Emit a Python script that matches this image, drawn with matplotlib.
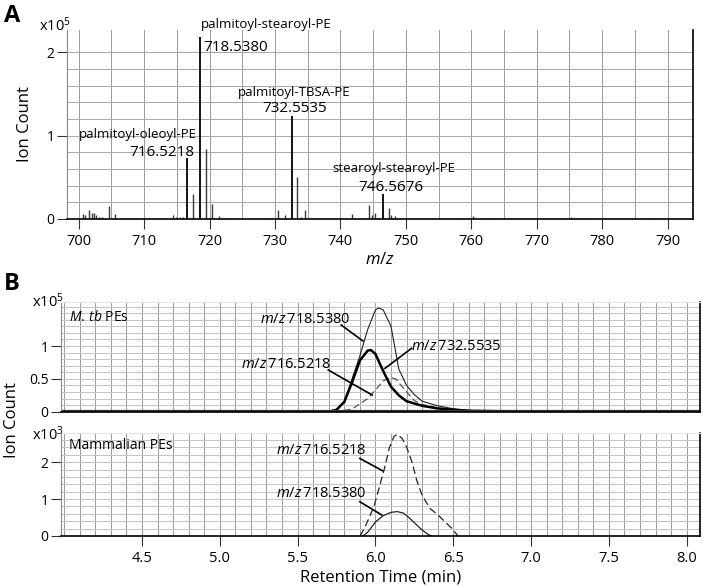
import numpy as np
import matplotlib.pyplot as plt
from matplotlib.ticker import FixedLocator, MultipleLocator, FuncFormatter

plt.rcParams['font.family'] = ['Open Sans', 'DejaVu Sans']
plt.rcParams['mathtext.fontset'] = 'custom'
plt.rcParams['mathtext.rm'] = 'Open Sans'
plt.rcParams['mathtext.it'] = 'Open Sans:italic'

# ---------------- data: panel A mass spectrum (ion count x1e5)
mz = [700.6, 700.9, 701.6, 702.0, 702.3, 702.7, 703.1, 703.6, 704.6, 705.6,
      706.6, 707.7, 708.4, 708.8, 709.2, 709.6, 710.0, 714.4, 714.9, 715.5,
      715.9, 716.52, 717.5, 718.54, 719.4, 720.4, 721.5, 723.1, 728.5, 730.5,
      731.5, 732.55, 733.4, 733.9, 734.6, 735.4, 741.8, 742.3, 744.4, 744.8,
      745.3, 746.57, 747.4, 747.8, 748.3, 749.3, 758.5, 759.5, 760.3, 761.5,
      762.5, 763.4, 773.5, 774.3, 775.2, 776.0, 777.0, 778.0, 786.5, 788.0, 790.5]
counts = [0.056, 0.044, 0.108, 0.076, 0.068, 0.052, 0.024, 0.028, 0.152, 0.06,
          0.01, 0.008, 0.01, 0.012, 0.01, 0.012, 0.01, 0.052, 0.02, 0.028,
          0.02, 0.73, 0.30, 2.18, 0.84, 0.18, 0.03, 0.008, 0.006, 0.104,
          0.052, 1.24, 0.50, 0.02, 0.104, 0.01, 0.06, 0.016, 0.168, 0.05,
          0.07, 0.30, 0.128, 0.05, 0.03, 0.01, 0.006, 0.01, 0.03, 0.008,
          0.008, 0.01, 0.006, 0.01, 0.02, 0.012, 0.008, 0.006, 0.005, 0.006, 0.005]
major_peaks = [716.52, 718.54, 732.55, 746.57]

# ---------------- data: panel B chromatograms
# M. tb PEs (x1e5)
t_718 = [4.0, 5.70, 5.75, 5.80, 5.85, 5.90, 5.95, 6.00, 6.02, 6.05, 6.10, 6.15, 6.20,
         6.25, 6.30, 6.40, 6.50, 6.60, 6.70, 7.00, 8.10]
i_718 = [0.0, 0.0, 0.02, 0.15, 0.5, 0.85, 1.25, 1.55, 1.58, 1.55, 1.3, 0.65, 0.4,
         0.26, 0.16, 0.09, 0.045, 0.02, 0.01, 0.005, 0.0]
t_716 = [4.0, 5.70, 5.75, 5.80, 5.85, 5.90, 5.95, 5.97, 6.00, 6.03, 6.06, 6.10, 6.15,
         6.20, 6.30, 6.40, 6.50, 6.60, 6.80, 7.50, 8.10]
i_716 = [0.0, 0.0, 0.03, 0.15, 0.45, 0.78, 0.93, 0.94, 0.88, 0.72, 0.57, 0.38, 0.25,
         0.16, 0.09, 0.05, 0.03, 0.015, 0.008, 0.005, 0.004]
t_732 = [4.0, 5.75, 5.85, 5.95, 6.00, 6.05, 6.10, 6.13, 6.20, 6.25, 6.30, 6.40, 6.50,
         6.60, 6.70, 8.10]
i_732 = [0.0, 0.0, 0.04, 0.2, 0.33, 0.47, 0.52, 0.5, 0.3, 0.17, 0.11, 0.06, 0.03,
         0.015, 0.005, 0.0]
# Mammalian PEs (x1e3)
tm_716 = [5.90, 5.93, 5.99, 6.03, 6.055, 6.09, 6.12, 6.14, 6.17, 6.20, 6.235, 6.265,
          6.30, 6.35, 6.414, 6.49, 6.53]
im_716 = [0.0, 0.21, 0.79, 1.4, 1.78, 2.4, 2.7, 2.75, 2.65, 2.41, 2.0, 1.51,
          1.1, 0.75, 0.52, 0.21, 0.0]
tm_718 = [5.92, 5.95, 6.00, 6.05, 6.10, 6.14, 6.18, 6.22, 6.26, 6.30, 6.34, 6.36]
im_718 = [0.0, 0.1, 0.38, 0.55, 0.64, 0.66, 0.62, 0.48, 0.32, 0.16, 0.04, 0.0]

rt_ticks = [4.5, 5.0, 5.5, 6.0, 6.5, 7.0, 7.5, 8.0]

vgrid = '#9a9a9a'
hgrid = '#c4c4c4'


def style_axes(ax, hcol=hgrid):
    ax.spines['top'].set_visible(False)
    ax.spines['left'].set_color('#888888')
    ax.spines['right'].set_color('black')
    ax.spines['right'].set_linewidth(1.2)
    ax.spines['bottom'].set_color('black')
    ax.spines['bottom'].set_linewidth(1.2)
    ax.tick_params(which='major', direction='out', length=7, width=0.8,
                   labelsize=10, pad=2, color='#333333')
    ax.tick_params(which='minor', length=0)
    ax.grid(which='both', axis='x', color=vgrid, lw=0.7)
    ax.grid(which='both', axis='y', color=hcol, lw=0.7)
    ax.set_axisbelow(True)


plain = FuncFormatter(lambda v, p: f'{v:g}')

fig = plt.figure(figsize=(7.03, 5.87), dpi=100)

# ---------------- panel A
axA = fig.add_axes([0.0953, 0.627, 0.8905, 0.322])
style_axes(axA, hcol='#a8a8a8')
cols = ['black' if any(abs(m - p) < 0.05 for p in major_peaks) else '#3a3a3a' for m in mz]
lws = [1.3 if c == 'black' else 1.0 for c in cols]
axA.vlines(mz, 0, counts, colors=cols, linewidths=lws)
axA.set_xlim(698.2, 793.9)
axA.set_ylim(0, 2.27)
axA.xaxis.set_major_locator(MultipleLocator(10))
axA.xaxis.set_minor_locator(MultipleLocator(5))
axA.yaxis.set_major_locator(FixedLocator([0, 1, 2]))
axA.yaxis.set_minor_locator(FixedLocator(np.arange(0.2, 2.01, 0.2)))
axA.yaxis.set_major_formatter(plain)
axA.tick_params(axis='x', labelsize=10.5, pad=4)
axA.set_xlabel(r'$\mathit{m/z}$', fontsize=12, labelpad=2)
axA.set_ylabel('Ion Count', fontsize=12, labelpad=10)
axA.text(-0.045, 1.02, r'x10$^{5}$', transform=axA.transAxes, fontsize=10.5,
         ha='left', va='center')

lab_small = 9.5
lab_big = 11
axA.text(728.6, 2.33, 'palmitoyl-stearoyl-PE', ha='center', va='center',
         fontsize=lab_small, clip_on=False)
axA.text(719.1, 2.06, '718.5380', ha='left', va='center', fontsize=lab_big)
axA.text(732.9, 1.52, 'palmitoyl-TBSA-PE', ha='center', va='center', fontsize=lab_small)
axA.text(733.0, 1.33, '732.5535', ha='center', va='center', fontsize=lab_big)
axA.text(709.0, 1.01, 'palmitoyl-oleoyl-PE', ha='center', va='center', fontsize=lab_small)
axA.text(717.6, 0.80, '716.5218', ha='right', va='center', fontsize=lab_big)
axA.text(748.2, 0.60, 'stearoyl-stearoyl-PE', ha='center', va='center', fontsize=lab_small)
axA.text(747.7, 0.38, '746.5676', ha='center', va='center', fontsize=lab_big)

# ---------------- panel B
axB1 = fig.add_axes([0.0868, 0.2986, 0.9089, 0.1869])
axB2 = fig.add_axes([0.0868, 0.0869, 0.9089, 0.1749], sharex=axB1)
for ax in (axB1, axB2):
    style_axes(ax)
    ax.spines['top'].set_visible(True)
    ax.spines['top'].set_color('#e6e6e6')

axB1.plot(t_718, i_718, color='#222222', lw=0.8)
axB1.plot(t_732, i_732, color='#444444', lw=0.8, ls=(0, (6, 3)))
axB1.plot(t_716, i_716, color='black', lw=1.8)
axB1.axhline(0.004, color='#333333', lw=1.6)
axB1.set_xlim(3.98, 8.085)
axB1.set_ylim(0, 1.67)
axB1.xaxis.set_major_locator(FixedLocator(rt_ticks))
axB1.xaxis.set_minor_locator(FixedLocator(np.arange(4.0, 8.05, 0.1)))
axB1.yaxis.set_major_locator(FixedLocator([0, 0.5, 1]))
axB1.yaxis.set_minor_locator(FixedLocator(np.arange(0.1, 1.61, 0.1)))
axB1.yaxis.set_major_formatter(plain)
axB1.tick_params(axis='x', which='both', labelbottom=False, length=0)

axB2.plot(tm_716, im_716, color='#222222', lw=0.9, ls=(0, (6, 3)))
axB2.plot(tm_718, im_718, color='#222222', lw=0.9)
axB2.set_ylim(0, 2.78)
axB2.yaxis.set_major_locator(FixedLocator([0, 1, 2]))
axB2.yaxis.set_minor_locator(FixedLocator(np.arange(0.2, 2.61, 0.2)))
axB2.yaxis.set_major_formatter(plain)
axB2.xaxis.set_major_formatter(FuncFormatter(lambda v, p: f'{v:.1f}'))
axB2.tick_params(axis='x', labelsize=10.5, pad=4)
axB2.set_xlabel('Retention Time (min)', fontsize=12, labelpad=2)

fig.text(0.017, 0.285, 'Ion Count', rotation=90, ha='center', va='center', fontsize=12)
axB1.text(-0.045, 1.0, r'x10$^{5}$', transform=axB1.transAxes, fontsize=10.5,
          ha='left', va='center')
axB2.text(-0.045, 0.985, r'x10$^{3}$', transform=axB2.transAxes, fontsize=10.5,
          ha='left', va='center')

axB1.text(0.013, 0.86, r'$\mathit{M.\,tb}$ PEs', transform=axB1.transAxes,
          fontsize=10, ha='left', va='center')
axB2.text(0.013, 0.88, 'Mammalian PEs', transform=axB2.transAxes,
          fontsize=10, ha='left', va='center')

fs_b = 10.5
axB1.text(5.84, 1.40, r'$\mathit{m/z}\,$718.5380', ha='right', va='center', fontsize=fs_b)
axB1.plot([5.78, 5.92], [1.32, 1.076], color='black', lw=1.2)
axB1.text(5.72, 0.72, r'$\mathit{m/z}\,$716.5218', ha='right', va='center', fontsize=fs_b)
axB1.plot([5.697, 5.979], [0.635, 0.254], color='black', lw=1.2)
axB1.text(6.23, 0.99, r'$\mathit{m/z}\,$732.5535', ha='left', va='center', fontsize=fs_b)
axB1.plot([6.232, 6.061], [0.965, 0.66], color='black', lw=1.2)

axB2.text(5.94, 2.31, r'$\mathit{m/z}\,$716.5218', ha='right', va='center', fontsize=fs_b)
axB2.plot([5.90, 6.046], [2.10, 1.765], color='black', lw=1.2)
axB2.text(5.94, 1.14, r'$\mathit{m/z}\,$718.5380', ha='right', va='center', fontsize=fs_b)
axB2.plot([5.90, 6.04], [0.927, 0.57], color='black', lw=1.2)

fig.text(0.017, 0.972, 'A', fontsize=17, fontweight='bold', ha='center', va='center')
fig.text(0.017, 0.517, 'B', fontsize=17, fontweight='bold', ha='center', va='center')

fig.savefig('out.png', dpi=100, facecolor='w')
